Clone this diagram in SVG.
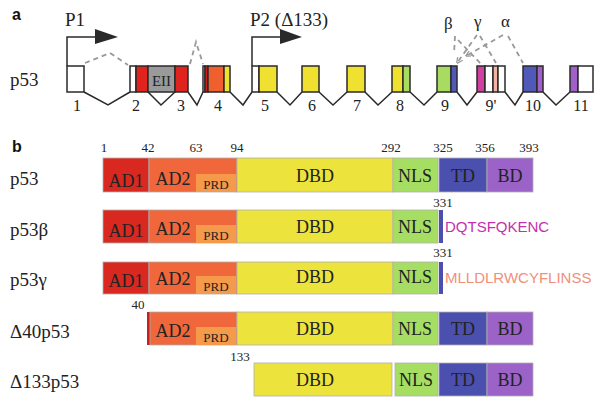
<svg xmlns="http://www.w3.org/2000/svg" width="601" height="405" viewBox="0 0 601 405">
<defs>
<style>
.ser{font-family:"Liberation Serif","Times New Roman",serif;fill:#222}
.lab{font-family:"Liberation Sans",Arial,sans-serif;font-weight:bold;font-size:16px;fill:#111}
.ex{stroke:#2a2a2a;stroke-width:1.5}
.intr{fill:none;stroke:#2a2a2a;stroke-width:1.5}
.dash{fill:none;stroke:#999;stroke-width:1.8;stroke-dasharray:5,4}
.seg{stroke:#b0b0b0;stroke-width:0.8}
.num{font-size:13px}
.dom{font-size:18px;text-anchor:middle}
.prd{font-size:13px;text-anchor:middle}
.enum{font-size:16px;text-anchor:middle}
.iso{font-size:19px}
.seq{font-family:"Liberation Sans",Arial,sans-serif;font-size:15px}
</style>
<marker id="ah" viewBox="0 0 10 10" refX="9" refY="5" markerWidth="3.5" markerHeight="3.5" orient="auto"><path d="M0,0 L10,5 L0,10" fill="none" stroke="#999" stroke-width="2"/></marker>
</defs>
<rect width="601" height="405" fill="#fff"/>
<text class="lab" x="12" y="20">a</text>
<text class="lab" x="12" y="152">b</text>
<text class="ser" x="10" y="86" font-size="19">p53</text>

<g id="promoters">
<text class="ser" x="65" y="26" font-size="19">P1</text>
<polyline points="67,66 67,37 96,37" fill="none" stroke="#2a2a2a" stroke-width="1.5"/>
<polygon points="95,29 118,37 95,44" fill="#2a2a2a"/>
<text class="ser" x="250" y="26" font-size="19">P2 (Δ133)</text>
<polyline points="252,66 252,37 281,37" fill="none" stroke="#2a2a2a" stroke-width="1.5"/>
<polygon points="280,29 302,37 280,44" fill="#2a2a2a"/>
</g>

<g id="connectors">
<polyline class="intr" points="84,92 108,105 130,92"/>
<polyline class="intr" points="148,92 161,105 175,92"/>
<polyline class="intr" points="188,92 197,105 203,92"/>
<polyline class="intr" points="230,92 243,105 252,92"/>
<polyline class="intr" points="277,92 290,105 302,92"/>
<polyline class="intr" points="319,92 333,105 347,92"/>
<polyline class="intr" points="365,92 378,105 392,92"/>
<polyline class="intr" points="410,92 424,105 437,92"/>
<polyline class="intr" points="457,92 467,105 477,92"/>
<polyline class="intr" points="505,92 515,105 523,92"/>
<polyline class="intr" points="543,92 556,105 570,92"/>
<polyline class="dash" points="85,63 110,53 128,65"/>
<polyline class="dash" points="190,64 196,42 203,64"/>
<line class="dash" x1="455" y1="36" x2="454" y2="54"/>
<line class="dash" x1="477" y1="35" x2="457" y2="63" marker-end="url(#ah)"/>
<line class="dash" x1="503" y1="35" x2="466" y2="56" marker-end="url(#ah)"/>
<line class="dash" x1="458" y1="40" x2="481" y2="64"/>
<line class="dash" x1="480" y1="36" x2="496" y2="63"/>
<line class="dash" x1="508" y1="36" x2="523" y2="63"/>
</g>

<g id="greek">
<text class="ser" x="444" y="29" font-size="17">β</text>
<text class="ser" x="474" y="27" font-size="17">γ</text>
<text class="ser" x="501" y="27" font-size="17">α</text>
</g>

<g id="exon1"><rect class="ex" x="67" y="66" width="17" height="26" fill="#fff"/><text class="ser enum" x="77" y="111">1</text></g>
<g id="exon2-3">
<rect class="ex" x="130" y="66" width="6" height="26" fill="#fff"/>
<rect class="ex" x="136" y="66" width="12" height="26" fill="#e0231c"/>
<rect class="ex" x="148" y="66" width="27" height="26" fill="#9a9a9a"/>
<rect class="ex" x="175" y="66" width="13" height="26" fill="#e0231c"/>
<text class="ser" x="161.5" y="86" font-size="15" text-anchor="middle">EII</text>
<text class="ser enum" x="136" y="111">2</text>
<text class="ser enum" x="181" y="111">3</text>
</g>
<g id="exon4">
<rect class="ex" x="203" y="66" width="2" height="26" fill="#fff"/>
<rect class="ex" x="205" y="66" width="3" height="26" fill="#c8201a"/>
<rect class="ex" x="208" y="66" width="16" height="26" fill="#f0602e"/>
<rect class="ex" x="224" y="66" width="6" height="26" fill="#f0e030"/>
<text class="ser enum" x="218" y="111">4</text>
</g>
<g id="exon5">
<rect class="ex" x="252" y="66" width="7" height="26" fill="#fff"/>
<rect class="ex" x="259" y="66" width="18" height="26" fill="#f0e030"/>
<text class="ser enum" x="265" y="111">5</text>
</g>
<g id="exon6"><rect class="ex" x="302" y="66" width="17" height="26" fill="#f0e030"/><text class="ser enum" x="312" y="111">6</text></g>
<g id="exon7"><rect class="ex" x="347" y="66" width="18" height="26" fill="#f0e030"/><text class="ser enum" x="357" y="111">7</text></g>
<g id="exon8">
<rect class="ex" x="392" y="66" width="11" height="26" fill="#f0e030"/>
<rect class="ex" x="403" y="66" width="7" height="26" fill="#a8dc60"/>
<text class="ser enum" x="400" y="111">8</text>
</g>
<g id="exon9">
<rect class="ex" x="437" y="66" width="14" height="26" fill="#a8dc60"/>
<rect class="ex" x="451" y="66" width="6" height="26" fill="#5058b8"/>
<text class="ser enum" x="445" y="111">9</text>
</g>
<g id="exon9p">
<rect class="ex" x="477" y="66" width="8" height="26" fill="#d040a0"/>
<rect class="ex" x="485" y="66" width="8" height="26" fill="#fff"/>
<rect class="ex" x="493" y="66" width="5" height="26" fill="#f2b4a0"/>
<rect class="ex" x="498" y="66" width="7" height="26" fill="#fff"/>
<text class="ser enum" x="491" y="111">9'</text>
</g>
<g id="exon10">
<rect class="ex" x="523" y="66" width="14" height="26" fill="#5058b8"/>
<rect class="ex" x="537" y="66" width="6" height="26" fill="#a060c8"/>
<text class="ser enum" x="533" y="111">10</text>
</g>
<g id="exon11">
<rect class="ex" x="570" y="66" width="8" height="26" fill="#a060c8"/>
<rect class="ex" x="578" y="66" width="15" height="26" fill="#fff"/>
<text class="ser enum" x="581" y="111">11</text>
</g>

<g id="iso-p53">
<text class="ser iso" x="10" y="185">p53</text>
<text class="ser num" x="104" y="152" text-anchor="middle">1</text>
<text class="ser num" x="148" y="152" text-anchor="middle">42</text>
<text class="ser num" x="196" y="152" text-anchor="middle">63</text>
<text class="ser num" x="237" y="152" text-anchor="middle">94</text>
<text class="ser num" x="391" y="152" text-anchor="middle">292</text>
<text class="ser num" x="443" y="152" text-anchor="middle">325</text>
<text class="ser num" x="485" y="152" text-anchor="middle">356</text>
<text class="ser num" x="529" y="152" text-anchor="middle">393</text>
<rect class="seg" x="103" y="158" width="46" height="34" fill="#d8281f"/>
<rect class="seg" x="149" y="158" width="88" height="34" fill="#ef673a"/>
<rect x="196" y="174" width="40" height="18" fill="#f5994a"/>
<rect class="seg" x="237" y="158" width="156" height="34" fill="#ece43c"/>
<rect class="seg" x="393" y="158" width="45" height="34" fill="#a6de64"/>
<rect class="seg" x="439" y="158" width="48" height="34" fill="#4b4fae"/>
<rect class="seg" x="487" y="158" width="46" height="34" fill="#9b62c8"/>
<text class="ser dom" x="126" y="187">AD1</text>
<text class="ser dom" x="173" y="185">AD2</text>
<text class="ser prd" x="216" y="189">PRD</text>
<text class="ser dom" x="315" y="182">DBD</text>
<text class="ser dom" x="415" y="182">NLS</text>
<text class="ser dom" x="463" y="182">TD</text>
<text class="ser dom" x="510" y="182">BD</text>
</g>

<g id="iso-p53b">
<text class="ser iso" x="10" y="236">p53β</text>
<text class="ser num" x="443" y="207" text-anchor="middle">331</text>
<rect class="seg" x="103" y="210" width="46" height="33" fill="#d8281f"/>
<rect class="seg" x="149" y="210" width="88" height="33" fill="#ef673a"/>
<rect x="196" y="225" width="40" height="18" fill="#f5994a"/>
<rect class="seg" x="237" y="210" width="156" height="33" fill="#ece43c"/>
<rect class="seg" x="393" y="210" width="45" height="33" fill="#a6de64"/>
<rect x="439" y="210" width="4" height="33" fill="#4b4fae"/>
<text class="ser dom" x="126" y="237">AD1</text>
<text class="ser dom" x="173" y="235">AD2</text>
<text class="ser prd" x="216" y="240">PRD</text>
<text class="ser dom" x="315" y="233">DBD</text>
<text class="ser dom" x="415" y="233">NLS</text>
<text class="seq" x="445" y="232" fill="#c42fae">DQTSFQKENC</text>
</g>

<g id="iso-p53g">
<text class="ser iso" x="10" y="286">p53γ</text>
<text class="ser num" x="443" y="257" text-anchor="middle">331</text>
<rect class="seg" x="103" y="262" width="46" height="32" fill="#d8281f"/>
<rect class="seg" x="149" y="262" width="88" height="32" fill="#ef673a"/>
<rect x="196" y="276" width="40" height="18" fill="#f5994a"/>
<rect class="seg" x="237" y="262" width="156" height="32" fill="#ece43c"/>
<rect class="seg" x="393" y="262" width="45" height="32" fill="#a6de64"/>
<rect x="439" y="262" width="4" height="32" fill="#4b4fae"/>
<text class="ser dom" x="126" y="287">AD1</text>
<text class="ser dom" x="173" y="285">AD2</text>
<text class="ser prd" x="216" y="291">PRD</text>
<text class="ser dom" x="315" y="283">DBD</text>
<text class="ser dom" x="415" y="283">NLS</text>
<text class="seq" x="445" y="283" fill="#f0907a">MLLDLRWCYFLINSS</text>
</g>

<g id="iso-d40">
<text class="ser iso" x="10" y="338">Δ40p53</text>
<text class="ser num" x="138" y="309" text-anchor="middle">40</text>
<rect x="147" y="312" width="3" height="33" fill="#c8201a"/>
<rect class="seg" x="150" y="312" width="87" height="33" fill="#ef673a"/>
<rect x="196" y="327" width="40" height="18" fill="#f5994a"/>
<rect class="seg" x="237" y="312" width="156" height="33" fill="#ece43c"/>
<rect class="seg" x="393" y="312" width="45" height="33" fill="#a6de64"/>
<rect class="seg" x="439" y="312" width="48" height="33" fill="#4b4fae"/>
<rect class="seg" x="487" y="312" width="46" height="33" fill="#9b62c8"/>
<text class="ser dom" x="173" y="337">AD2</text>
<text class="ser prd" x="216" y="342">PRD</text>
<text class="ser dom" x="315" y="335">DBD</text>
<text class="ser dom" x="415" y="335">NLS</text>
<text class="ser dom" x="463" y="335">TD</text>
<text class="ser dom" x="510" y="335">BD</text>
</g>

<g id="iso-d133">
<text class="ser iso" x="10" y="388">Δ133p53</text>
<text class="ser num" x="240" y="361" text-anchor="middle">133</text>
<rect class="seg" x="254" y="363" width="138" height="33" fill="#ece43c"/>
<rect class="seg" x="395" y="363" width="43" height="33" fill="#a6de64"/>
<rect class="seg" x="439" y="363" width="48" height="33" fill="#4b4fae"/>
<rect class="seg" x="487" y="363" width="46" height="33" fill="#9b62c8"/>
<text class="ser dom" x="315" y="386">DBD</text>
<text class="ser dom" x="416" y="386">NLS</text>
<text class="ser dom" x="463" y="386">TD</text>
<text class="ser dom" x="510" y="386">BD</text>
</g>
</svg>
